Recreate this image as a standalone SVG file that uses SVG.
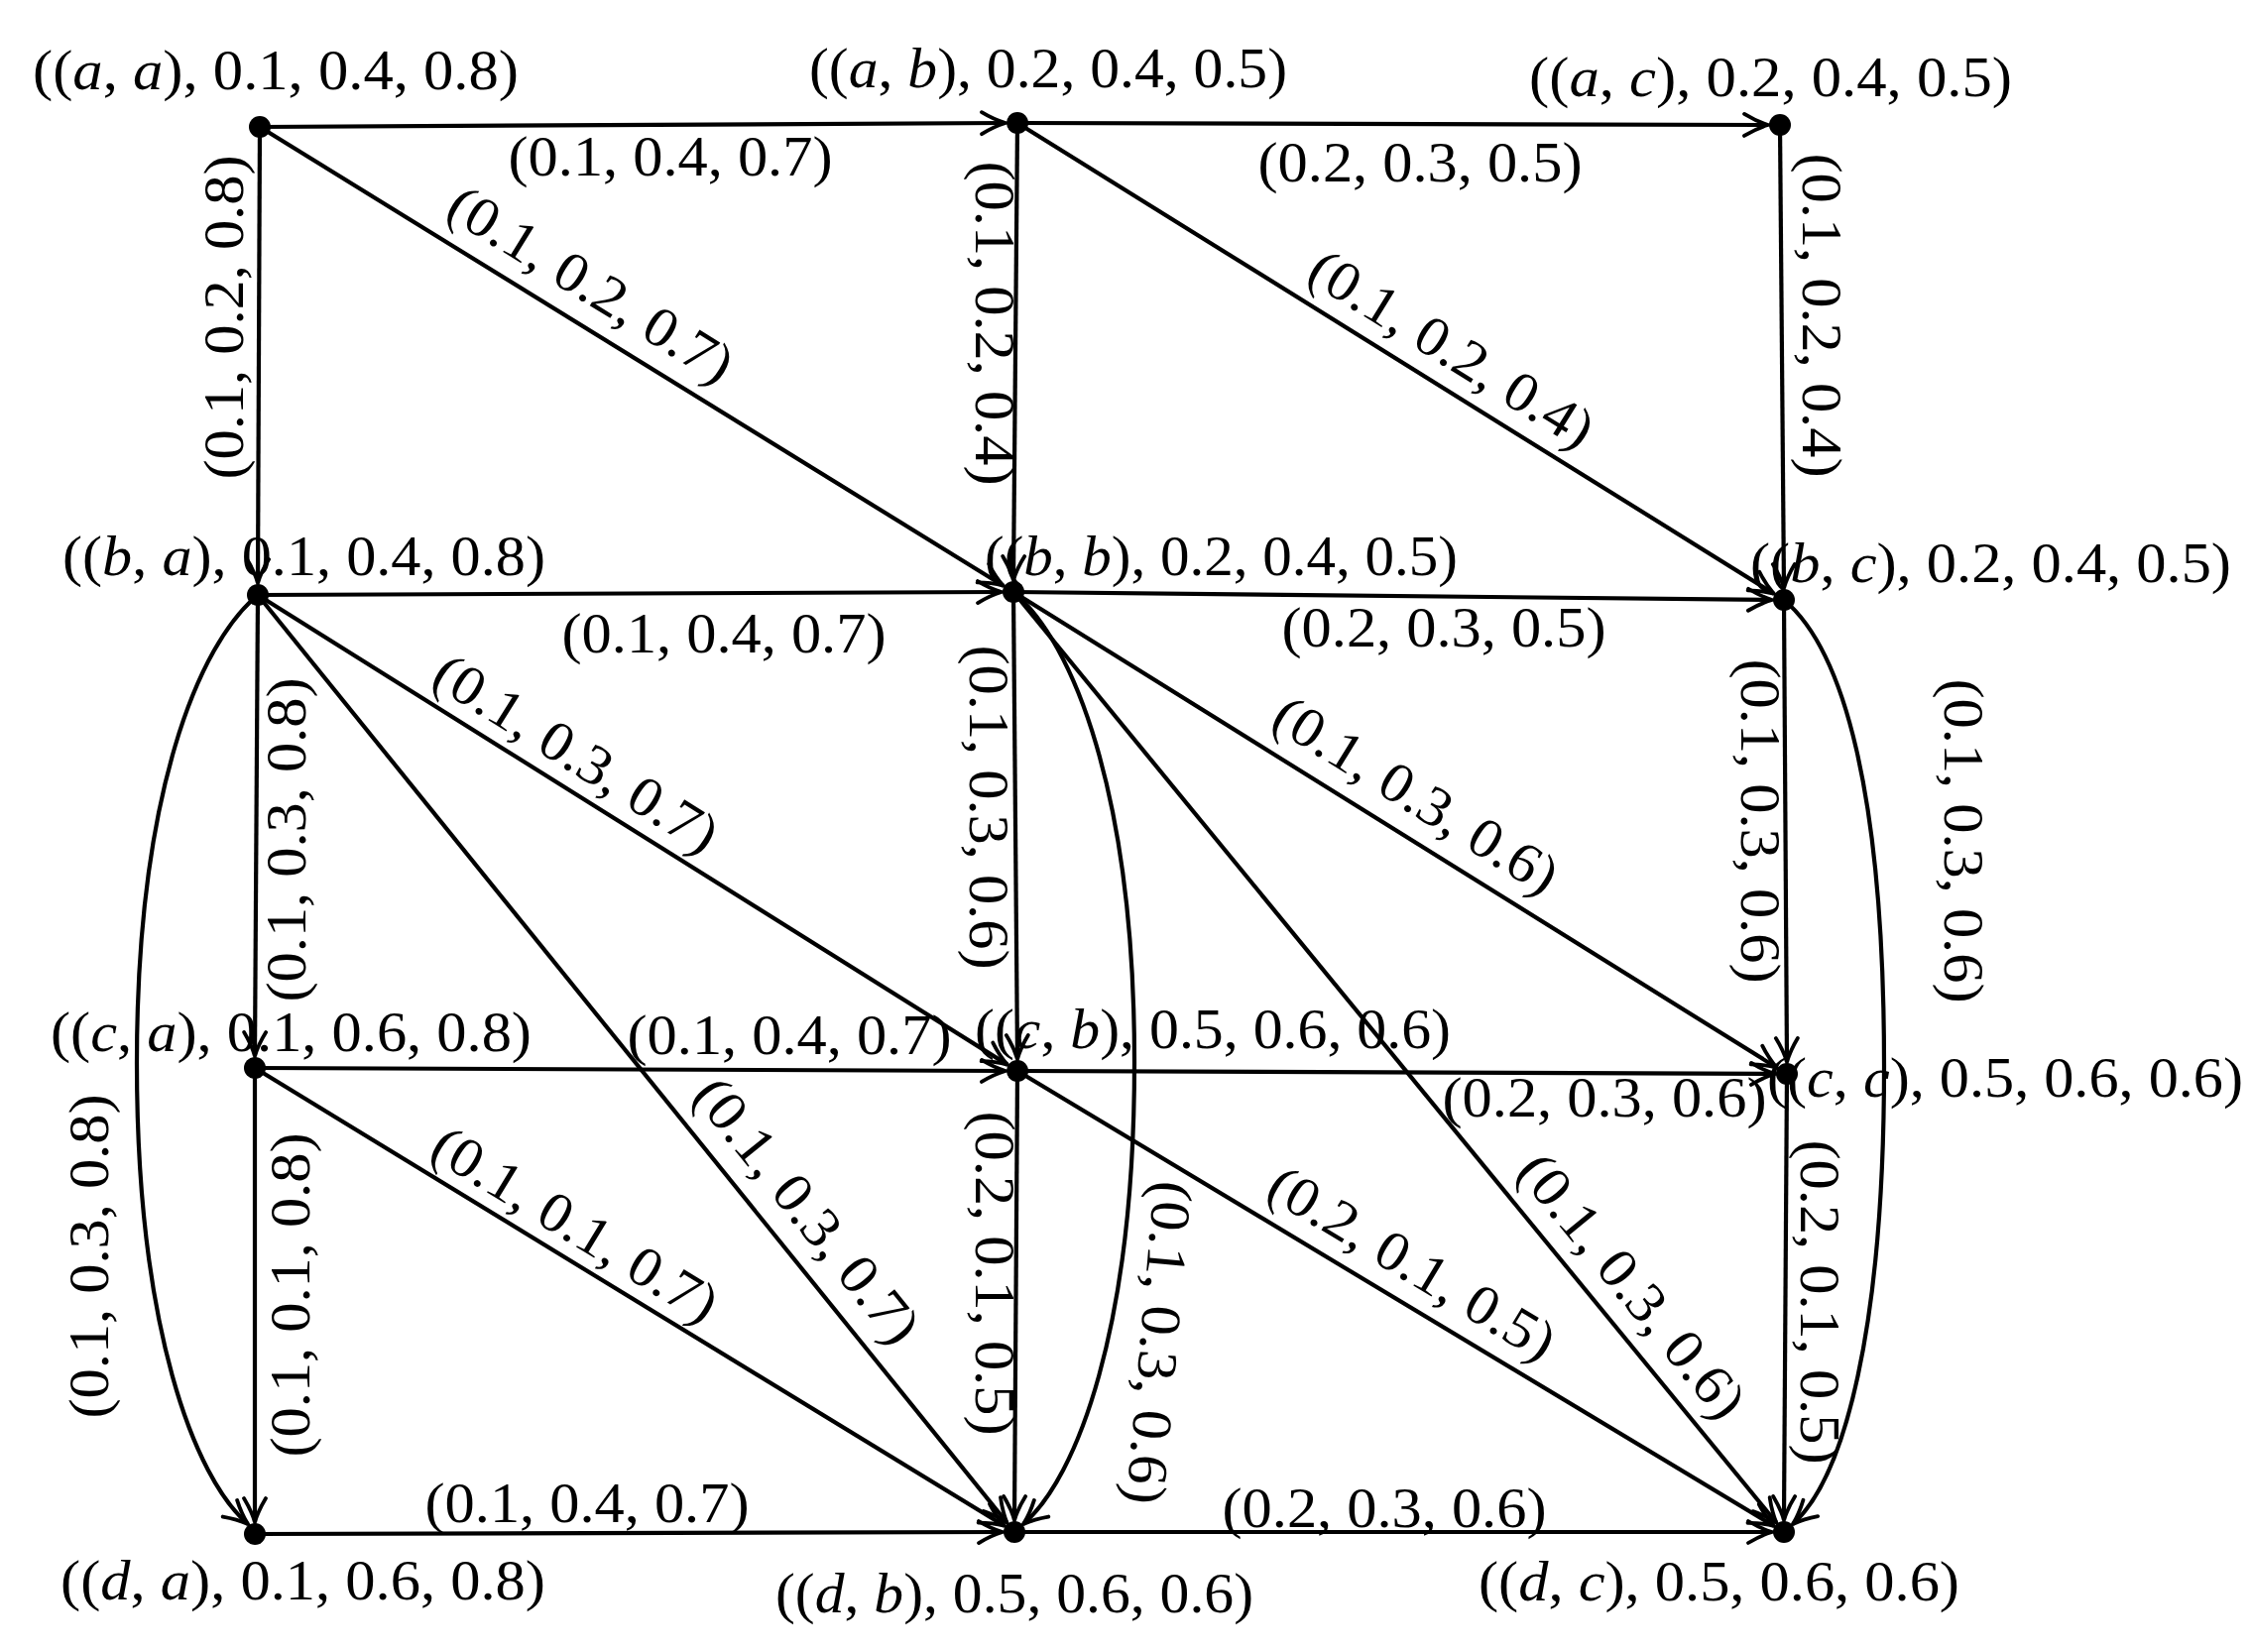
<svg xmlns="http://www.w3.org/2000/svg" width="2270" height="1666" viewBox="0 0 2270 1666">
<style>
.e{fill:none;stroke:#000;stroke-width:4.2;marker-end:url(#arr)}
.dot{fill:#000}
text{font-family:"Liberation Serif","Times New Roman",serif;font-size:57px;fill:#000}
.m{text-anchor:middle}
.i{font-style:italic}
</style>
<defs>
<marker id="arr" viewBox="-28 -14 30 28" refX="0" refY="0" markerWidth="30" markerHeight="28" markerUnits="userSpaceOnUse" orient="auto">
<path d="M -24,-11 C -15,-5.5 -5,-1.5 0,0 C -5,1.5 -15,5.5 -24,11" fill="none" stroke="#000" stroke-width="3.8" stroke-linecap="round"/>
</marker>
</defs>
<rect width="2270" height="1666" fill="#fff"/>
<g id="connectors">
<path class="e" d="M262,128 L1014,124"/>
<path class="e" d="M1026,124 L1783,126"/>
<path class="e" d="M260,600 L1010,597"/>
<path class="e" d="M1022,597 L1787,605"/>
<path class="e" d="M257,1077 L1014,1080"/>
<path class="e" d="M1026,1080 L1790,1083"/>
<path class="e" d="M257,1547 L1011,1545"/>
<path class="e" d="M1023,1545 L1787,1545"/>
<path class="e" d="M262,128 L260,588"/>
<path class="e" d="M1026,124 L1022,585"/>
<path class="e" d="M1795,126 L1799,593"/>
<path class="e" d="M260,600 L257,1065"/>
<path class="e" d="M1022,597 L1026,1068"/>
<path class="e" d="M1799,605 L1802,1071"/>
<path class="e" d="M257,1077 L257,1535"/>
<path class="e" d="M1026,1080 L1023,1533"/>
<path class="e" d="M1802,1083 L1799,1533"/>
<path class="e" d="M262,128 L1011.8,590.7"/>
<path class="e" d="M1026,124 L1788.8,598.7"/>
<path class="e" d="M260,600 L1015.8,1073.6"/>
<path class="e" d="M260,600 L1015.5,1535.7"/>
<path class="e" d="M1022,597 L1791.8,1076.7"/>
<path class="e" d="M1022,597 L1791.4,1535.7"/>
<path class="e" d="M257,1077 L1012.8,1538.7"/>
<path class="e" d="M1026,1080 L1788.7,1538.8"/>
<path class="e" d="M260,600 C200,650 138,800 138,1072 C138,1340 196,1490 250,1537"/>
<path class="e" d="M1022,597 C1082,647 1144,800 1144,1071 C1144,1340 1086,1490 1032,1537"/>
<path class="e" d="M1799,605 C1859,655 1900,800 1900,1075 C1900,1340 1860,1490 1808,1537"/>
</g>
<g id="edge-labels">
<text class="m" x="676" y="177" textLength="327" lengthAdjust="spacingAndGlyphs">(0.1, 0.4, 0.7)</text>
<text class="m" x="1432" y="183" textLength="327" lengthAdjust="spacingAndGlyphs">(0.2, 0.3, 0.5)</text>
<text class="m" x="730" y="658" textLength="327" lengthAdjust="spacingAndGlyphs">(0.1, 0.4, 0.7)</text>
<text class="m" x="1456" y="652" textLength="327" lengthAdjust="spacingAndGlyphs">(0.2, 0.3, 0.5)</text>
<text class="m" x="796" y="1063" textLength="327" lengthAdjust="spacingAndGlyphs">(0.1, 0.4, 0.7)</text>
<text class="m" x="1618" y="1126" textLength="327" lengthAdjust="spacingAndGlyphs">(0.2, 0.3, 0.6)</text>
<text class="m" x="592" y="1535" textLength="327" lengthAdjust="spacingAndGlyphs">(0.1, 0.4, 0.7)</text>
<text class="m" x="1396" y="1540" textLength="327" lengthAdjust="spacingAndGlyphs">(0.2, 0.3, 0.6)</text>
<text class="m" transform="translate(230,320) rotate(-90)" x="0" y="15" textLength="327" lengthAdjust="spacingAndGlyphs">(0.1, 0.2, 0.8)</text>
<text class="m" transform="translate(999,326) rotate(90)" x="0" y="15" textLength="327" lengthAdjust="spacingAndGlyphs">(0.1, 0.2, 0.4)</text>
<text class="m" transform="translate(1833,318) rotate(90)" x="0" y="15" textLength="327" lengthAdjust="spacingAndGlyphs">(0.1, 0.2, 0.4)</text>
<text class="m" transform="translate(293,847) rotate(-90)" x="0" y="15" textLength="327" lengthAdjust="spacingAndGlyphs">(0.1, 0.3, 0.8)</text>
<text class="m" transform="translate(993,814) rotate(90)" x="0" y="15" textLength="327" lengthAdjust="spacingAndGlyphs">(0.1, 0.3, 0.6)</text>
<text class="m" transform="translate(1771,828) rotate(90)" x="0" y="15" textLength="327" lengthAdjust="spacingAndGlyphs">(0.1, 0.3, 0.6)</text>
<text class="m" transform="translate(1976,848) rotate(90)" x="0" y="15" textLength="327" lengthAdjust="spacingAndGlyphs">(0.1, 0.3, 0.6)</text>
<text class="m" transform="translate(94,1267) rotate(-90)" x="0" y="15" textLength="327" lengthAdjust="spacingAndGlyphs">(0.1, 0.3, 0.8)</text>
<text class="m" transform="translate(297,1306) rotate(-90)" x="0" y="15" textLength="327" lengthAdjust="spacingAndGlyphs">(0.1, 0.1, 0.8)</text>
<text class="m" transform="translate(999,1284) rotate(90)" x="0" y="15" textLength="327" lengthAdjust="spacingAndGlyphs">(0.2, 0.1, 0.5)</text>
<text class="m" transform="translate(1831,1313) rotate(90)" x="0" y="15" textLength="327" lengthAdjust="spacingAndGlyphs">(0.2, 0.1, 0.5)</text>
<text class="m" transform="translate(1165,1354) rotate(95)" x="0" y="15" textLength="327" lengthAdjust="spacingAndGlyphs">(0.1, 0.3, 0.6)</text>
<text class="m" transform="translate(594,290) rotate(31.7)" x="0" y="15" textLength="327" lengthAdjust="spacingAndGlyphs">(0.1, 0.2, 0.7)</text>
<text class="m" transform="translate(1462,355) rotate(31.9)" x="0" y="15" textLength="327" lengthAdjust="spacingAndGlyphs">(0.1, 0.2, 0.4)</text>
<text class="m" transform="translate(579,763) rotate(32.1)" x="0" y="15" textLength="327" lengthAdjust="spacingAndGlyphs">(0.1, 0.3, 0.7)</text>
<text class="m" transform="translate(1426,805) rotate(31.9)" x="0" y="15" textLength="327" lengthAdjust="spacingAndGlyphs">(0.1, 0.3, 0.6)</text>
<text class="m" transform="translate(578,1238) rotate(31.4)" x="0" y="15" textLength="327" lengthAdjust="spacingAndGlyphs">(0.1, 0.1, 0.7)</text>
<text class="m" transform="translate(1422,1277) rotate(31)" x="0" y="15" textLength="327" lengthAdjust="spacingAndGlyphs">(0.2, 0.1, 0.5)</text>
<text class="m" transform="translate(811,1223) rotate(51.1)" x="0" y="15" textLength="327" lengthAdjust="spacingAndGlyphs">(0.1, 0.3, 0.7)</text>
<text class="m" transform="translate(1643,1299) rotate(50.7)" x="0" y="15" textLength="327" lengthAdjust="spacingAndGlyphs">(0.1, 0.3, 0.6)</text>
</g>
<g id="n-aa"><circle class="dot" cx="262" cy="128" r="11"/><text x="33" y="90" textLength="490" lengthAdjust="spacingAndGlyphs">((<tspan class="i">a</tspan>, <tspan class="i">a</tspan>), 0.1, 0.4, 0.8)</text></g>
<g id="n-ab"><circle class="dot" cx="1026" cy="124" r="11"/><text x="816" y="88" textLength="482" lengthAdjust="spacingAndGlyphs">((<tspan class="i">a</tspan>, <tspan class="i">b</tspan>), 0.2, 0.4, 0.5)</text></g>
<g id="n-ac"><circle class="dot" cx="1795" cy="126" r="11"/><text x="1542" y="97" textLength="487" lengthAdjust="spacingAndGlyphs">((<tspan class="i">a</tspan>, <tspan class="i">c</tspan>), 0.2, 0.4, 0.5)</text></g>
<g id="n-ba"><circle class="dot" cx="260" cy="600" r="11"/><text x="63" y="580" textLength="487" lengthAdjust="spacingAndGlyphs">((<tspan class="i">b</tspan>, <tspan class="i">a</tspan>), 0.1, 0.4, 0.8)</text></g>
<g id="n-bb"><circle class="dot" cx="1022" cy="597" r="11"/><text x="993" y="580" textLength="477" lengthAdjust="spacingAndGlyphs">((<tspan class="i">b</tspan>, <tspan class="i">b</tspan>), 0.2, 0.4, 0.5)</text></g>
<g id="n-bc"><circle class="dot" cx="1799" cy="605" r="11"/><text x="1765" y="587" textLength="485" lengthAdjust="spacingAndGlyphs">((<tspan class="i">b</tspan>, <tspan class="i">c</tspan>), 0.2, 0.4, 0.5)</text></g>
<g id="n-ca"><circle class="dot" cx="257" cy="1077" r="11"/><text x="51" y="1060" textLength="485" lengthAdjust="spacingAndGlyphs">((<tspan class="i">c</tspan>, <tspan class="i">a</tspan>), 0.1, 0.6, 0.8)</text></g>
<g id="n-cb"><circle class="dot" cx="1026" cy="1080" r="11"/><text x="983" y="1057" textLength="480" lengthAdjust="spacingAndGlyphs">((<tspan class="i">c</tspan>, <tspan class="i">b</tspan>), 0.5, 0.6, 0.6)</text></g>
<g id="n-cc"><circle class="dot" cx="1802" cy="1083" r="11"/><text x="1782" y="1106" textLength="480" lengthAdjust="spacingAndGlyphs">((<tspan class="i">c</tspan>, <tspan class="i">c</tspan>), 0.5, 0.6, 0.6)</text></g>
<g id="n-da"><circle class="dot" cx="257" cy="1547" r="11"/><text x="61" y="1613" textLength="489" lengthAdjust="spacingAndGlyphs">((<tspan class="i">d</tspan>, <tspan class="i">a</tspan>), 0.1, 0.6, 0.8)</text></g>
<g id="n-db"><circle class="dot" cx="1023" cy="1545" r="11"/><text x="782" y="1626" textLength="482" lengthAdjust="spacingAndGlyphs">((<tspan class="i">d</tspan>, <tspan class="i">b</tspan>), 0.5, 0.6, 0.6)</text></g>
<g id="n-dc"><circle class="dot" cx="1799" cy="1545" r="11"/><text x="1491" y="1614" textLength="485" lengthAdjust="spacingAndGlyphs">((<tspan class="i">d</tspan>, <tspan class="i">c</tspan>), 0.5, 0.6, 0.6)</text></g>
</svg>
